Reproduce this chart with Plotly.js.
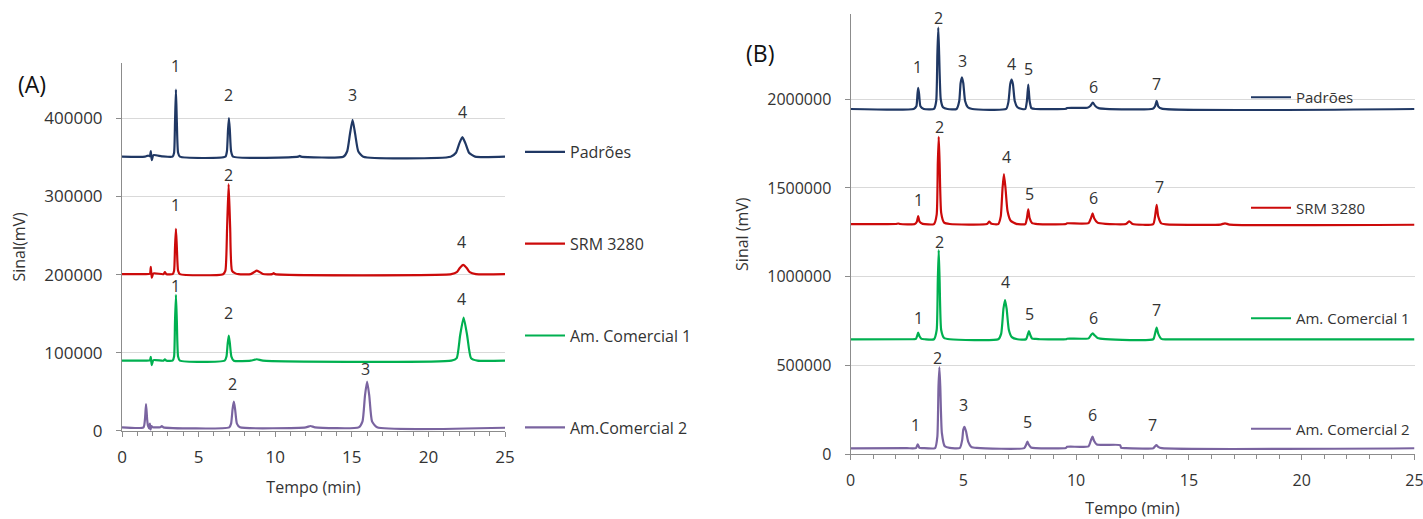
<!DOCTYPE html>
<html>
<head>
<meta charset="utf-8">
<script src="https://cdn.plot.ly/plotly-3.0.1.min.js"></script>
<style>
html,body{margin:0;padding:0;background:#fff;overflow:hidden;}
#chart{width:1423px;height:519px;}
</style>
</head>
<body>
<div id="chart"></div>
<script>
// ---------- Series names & colours ----------
const seriesNames = ['Padrões', 'SRM 3280', 'Am. Comercial 1', 'Am.Comercial 2'];
const seriesNamesB = ['Padrões', 'SRM 3280', 'Am. Comercial 1', 'Am. Comercial 2'];
const seriesColors = ['#203864', '#cc0a0a', '#00b050', '#7a64a0'];

// ---------- Panel (A) chromatograms: time (min) / signal (mV) ----------
const padA_t = [0, 1.5, 1.7, 1.82, 1.88, 1.94, 2.05, 2.6, 3.3, 3.4, 3.46, 3.52, 3.58, 3.66, 3.78, 6.75, 6.85, 6.92, 6.98, 7.04, 7.12, 7.25, 11.5, 11.6, 11.7, 14.45, 14.7, 14.88, 15.05, 15.22, 15.42, 15.75, 21.45, 21.8, 22.02, 22.22, 22.42, 22.65, 23.05, 25];
const padA_y = [351000, 351000, 352500, 351500, 358000, 346500, 353000, 351500, 351000, 356000, 395000, 437000, 395000, 356000, 351000, 351000, 358000, 385000, 400500, 385000, 358000, 351000, 351000, 352000, 351000, 351000, 358000, 380000, 398300, 380000, 358000, 351000, 351000, 356000, 368000, 376000, 368000, 356000, 351000, 351000];

const srmA_t = [0, 1.5, 1.82, 1.88, 1.94, 2.05, 2.7, 2.8, 2.9, 3.3, 3.4, 3.46, 3.52, 3.58, 3.66, 3.78, 6.6, 6.75, 6.86, 6.96, 7.06, 7.18, 7.4, 7.6, 8.4, 8.8, 9.2, 9.8, 9.9, 10.0, 21.5, 21.85, 22.05, 22.27, 22.5, 22.7, 23.1, 25];
const srmA_y = [200500, 200500, 201000, 210000, 196000, 201500, 200500, 203000, 200500, 200500, 205000, 235000, 258600, 235000, 205000, 200500, 200500, 205000, 260000, 316000, 260000, 205000, 201500, 200500, 200500, 205000, 200800, 200500, 201800, 200500, 200500, 203000, 208500, 212400, 208500, 203000, 200500, 200500];

const c1A_t = [0, 1.5, 1.82, 1.88, 1.94, 2.05, 2.7, 2.8, 2.9, 3.3, 3.4, 3.46, 3.52, 3.58, 3.66, 3.78, 6.7, 6.82, 6.9, 6.97, 7.04, 7.14, 7.3, 8.4, 8.8, 9.2, 21.5, 21.85, 22.07, 22.3, 22.53, 22.78, 23.2, 25];
const c1A_y = [89700, 89700, 90000, 94500, 84000, 90500, 89700, 91500, 89700, 89700, 95000, 140000, 174000, 140000, 95000, 89700, 89700, 95000, 112000, 121800, 112000, 95000, 89700, 89700, 91500, 89700, 89700, 93000, 122000, 144900, 122000, 93000, 89700, 89700];

const c2A_t = [0, 1.4, 1.5, 1.57, 1.64, 1.7, 1.78, 1.82, 1.86, 1.92, 2.0, 2.5, 2.6, 2.7, 7.0, 7.12, 7.22, 7.3, 7.38, 7.5, 7.7, 12.0, 12.3, 12.6, 15.45, 15.7, 15.86, 16.0, 16.14, 16.32, 16.65, 25];
const c2A_y = [4300, 4300, 15000, 34200, 15000, 6000, 3000, 9000, 1500, 6000, 4500, 4500, 5800, 4300, 4300, 9000, 28000, 37200, 28000, 9000, 4300, 4300, 6000, 4300, 4300, 12000, 45000, 62800, 45000, 12000, 4300, 3800];

// ---------- Panel (B) chromatograms ----------
const padB_t = [0, 2.8, 2.92, 2.97, 3.0, 3.04, 3.1, 3.25, 3.7, 3.8, 3.85, 3.89, 3.93, 4.0, 4.1, 4.3, 4.7, 4.82, 4.88, 4.94, 5.0, 5.08, 5.2, 5.4, 6.9, 7.0, 7.08, 7.14, 7.2, 7.28, 7.4, 7.6, 7.75, 7.82, 7.88, 7.94, 8.02, 8.2, 9.55, 9.6, 10.5, 10.63, 10.74, 10.85, 11.0, 11.3, 13.4, 13.5, 13.57, 13.64, 13.8, 25];
const padB_y = [1945000, 1945000, 1960000, 2030000, 2064000, 2030000, 1960000, 1945000, 1945000, 1990000, 2250000, 2404000, 2250000, 2000000, 1955000, 1945000, 1945000, 1990000, 2090000, 2123000, 2090000, 1990000, 1955000, 1945000, 1945000, 1985000, 2085000, 2111000, 2085000, 1990000, 1955000, 1945000, 1945000, 1990000, 2083000, 1990000, 1950000, 1945000, 1946000, 1951000, 1952000, 1962000, 1981000, 1962000, 1950000, 1946000, 1946000, 1960000, 1991000, 1960000, 1947000, 1945000];

const srmB_t = [0, 2.0, 2.12, 2.2, 2.85, 2.94, 3.0, 3.06, 3.2, 3.7, 3.82, 3.87, 3.91, 3.95, 4.02, 4.15, 4.4, 6.05, 6.15, 6.25, 6.55, 6.66, 6.74, 6.8, 6.87, 6.96, 7.1, 7.35, 7.75, 7.82, 7.88, 7.94, 8.05, 8.3, 9.55, 9.6, 10.55, 10.66, 10.73, 10.8, 10.95, 11.3, 12.2, 12.36, 12.5, 13.42, 13.5, 13.57, 13.64, 13.78, 14.0, 16.4, 16.6, 16.8, 25];
const srmB_y = [1297000, 1297000, 1300000, 1297000, 1297000, 1310000, 1342000, 1310000, 1298000, 1297000, 1350000, 1640000, 1788000, 1640000, 1360000, 1305000, 1297000, 1297000, 1310000, 1298000, 1297000, 1340000, 1500000, 1578000, 1500000, 1370000, 1315000, 1298000, 1297000, 1330000, 1379000, 1330000, 1302000, 1297000, 1297000, 1301000, 1302000, 1330000, 1357000, 1330000, 1305000, 1298000, 1297000, 1312000, 1297000, 1297000, 1340000, 1405000, 1340000, 1300000, 1295000, 1294000, 1301000, 1294000, 1293000];

const c1B_t = [0, 2.6, 2.9, 2.95, 3.0, 3.06, 3.15, 3.3, 3.7, 3.82, 3.87, 3.91, 3.95, 4.02, 4.15, 4.4, 6.55, 6.68, 6.78, 6.85, 6.92, 7.02, 7.15, 7.4, 7.78, 7.86, 7.91, 7.96, 8.05, 8.2, 8.4, 9.55, 9.6, 10.55, 10.66, 10.74, 10.82, 10.95, 11.3, 13.42, 13.5, 13.57, 13.64, 13.78, 14.0, 25];
const c1B_y = [647500, 648000, 650000, 665000, 685000, 665000, 650000, 648000, 648000, 700000, 980000, 1150000, 980000, 700000, 655000, 648000, 648000, 680000, 820000, 869000, 820000, 700000, 660000, 648000, 648000, 675000, 694000, 675000, 652000, 650000, 648000, 648000, 651000, 653000, 672000, 681000, 670000, 655000, 649000, 648000, 680000, 713000, 680000, 650000, 647500, 647500];

const c2B_t = [0, 2.5, 2.9, 2.98, 3.06, 3.2, 3.75, 3.85, 3.9, 3.94, 3.98, 4.05, 4.18, 4.4, 4.85, 4.95, 5.0, 5.05, 5.12, 5.22, 5.35, 5.6, 7.7, 7.79, 7.84, 7.9, 8.0, 8.2, 9.55, 9.6, 10.55, 10.66, 10.73, 10.8, 10.92, 11.95, 12.0, 12.2, 13.42, 13.5, 13.56, 13.64, 13.8, 25];
const c2B_y = [33800, 34500, 35000, 56000, 36000, 35000, 35000, 100000, 380000, 490000, 380000, 120000, 45000, 36000, 36000, 80000, 140000, 155000, 130000, 70000, 42000, 36000, 35000, 55000, 71000, 55000, 38000, 35000, 36000, 42000, 45000, 80000, 99000, 75000, 55000, 52000, 36000, 34500, 34500, 45000, 52000, 42000, 34500, 34000];

// ---------- Peak number labels (time, signal, text) ----------
const padA_lx = [3.52, 6.96, 15.05, 22.22];
const padA_ly = [466700, 430400, 429500, 407700];
const padA_lt = ['1', '2', '3', '4'];
const srmA_lx = [3.52, 6.96, 22.19];
const srmA_ly = [289400, 327800, 241500];
const srmA_lt = ['1', '2', '4'];
const c1A_lx = [3.46, 6.96, 22.19];
const c1A_ly = [185500, 150500, 168500];
const c1A_lt = ['1', '2', '4'];
const c2A_lx = [7.18, 15.92];
const c2A_ly = [59500, 79100];
const c2A_lt = ['2', '3'];

const padB_lx = [2.95, 3.88, 4.96, 7.14, 7.91, 10.76, 13.57];
const padB_ly = [2182000, 2455000, 2214000, 2201000, 2173000, 2070000, 2085000];
const padB_lt = ['1', '2', '3', '4', '5', '6', '7'];
const srmB_lx = [3.0, 3.94, 6.92, 7.92, 10.76, 13.68];
const srmB_ly = [1432000, 1845000, 1676000, 1466000, 1441000, 1503000];
const srmB_lt = ['1', '2', '4', '5', '6', '7'];
const c1B_lx = [3.0, 3.94, 6.89, 7.93, 10.76, 13.57];
const c1B_ly = [767000, 1197000, 968000, 788000, 766000, 812000];
const c1B_lt = ['1', '2', '4', '5', '6', '7'];
const c2B_lx = [2.9, 3.87, 5.0, 7.85, 10.74, 13.4];
const c2B_ly = [165000, 544000, 277600, 180000, 221000, 165000];
const c2B_lt = ['1', '2', '3', '5', '6', '7'];

// ---------- Axis tick values ----------
const xTicks = [0, 5, 10, 15, 20, 25];
const yTicksA = [0, 100000, 200000, 300000, 400000];
const yTicksB = [0, 500000, 1000000, 1500000, 2000000];

// ---------- Build ----------
const FONT = '"Open Sans", "DejaVu Sans", sans-serif';
const TXT = '#333333';
const AX = '#8c8c8c';
const GRID = '#d9d9d9';

const seriesA = [[padA_t, padA_y], [srmA_t, srmA_y], [c1A_t, c1A_y], [c2A_t, c2A_y]];
const seriesB = [[padB_t, padB_y], [srmB_t, srmB_y], [c1B_t, c1B_y], [c2B_t, c2B_y]];
const labelsA = [[padA_lx, padA_ly, padA_lt], [srmA_lx, srmA_ly, srmA_lt], [c1A_lx, c1A_ly, c1A_lt], [c2A_lx, c2A_ly, c2A_lt]];
const labelsB = [[padB_lx, padB_ly, padB_lt], [srmB_lx, srmB_ly, srmB_lt], [c1B_lx, c1B_ly, c1B_lt], [c2B_lx, c2B_ly, c2B_lt]];

const traces = [];
seriesA.forEach((s, i) => {
  traces.push({
    x: s[0], y: s[1], xaxis: 'x', yaxis: 'y', type: 'scatter', mode: 'lines',
    name: seriesNames[i], legend: 'legend', legendgroup: 'a' + i,
    line: {color: seriesColors[i], width: 2.2, shape: 'spline', smoothing: 0.5},
    hoverinfo: 'x+y'
  });
});
seriesB.forEach((s, i) => {
  traces.push({
    x: s[0], y: s[1], xaxis: 'x2', yaxis: 'y2', type: 'scatter', mode: 'lines',
    name: seriesNamesB[i], legend: 'legend2', legendgroup: 'b' + i,
    line: {color: seriesColors[i], width: 2.2, shape: 'spline', smoothing: 0.5},
    hoverinfo: 'x+y'
  });
});

const annotations = [];
labelsA.forEach(l => {
  l[0].forEach((x, k) => annotations.push({
    x: x, y: l[1][k], xref: 'x', yref: 'y', text: l[2][k], showarrow: false,
    xanchor: 'center', yanchor: 'middle',
    font: {family: FONT, size: 16, color: TXT}
  }));
});
labelsB.forEach(l => {
  l[0].forEach((x, k) => annotations.push({
    x: x, y: l[1][k], xref: 'x2', yref: 'y2', text: l[2][k], showarrow: false,
    xanchor: 'center', yanchor: 'middle',
    font: {family: FONT, size: 16, color: TXT}
  }));
});
annotations.push({x: 32 / 1423, y: 1 - 84 / 519, xref: 'paper', yref: 'paper', text: '(A)', showarrow: false,
  xanchor: 'center', yanchor: 'middle', font: {family: FONT, size: 23, color: '#111'}});
annotations.push({x: 760 / 1423, y: 1 - 53 / 519, xref: 'paper', yref: 'paper', text: '(B)', showarrow: false,
  xanchor: 'center', yanchor: 'middle', font: {family: FONT, size: 23, color: '#111'}});

function xAxisCfg(domain, size) {
  return {
    domain: domain, range: [0, 25], tickvals: xTicks, ticktext: xTicks.map(String),
    showline: true, linecolor: AX, linewidth: 1, mirror: false,
    ticks: 'outside', ticklen: 5, tickcolor: AX, ticklabelstandoff: 6,
    ticklabeloverflow: 'allow',
    minor: {dtick: 1, ticks: 'outside', ticklen: 4, tickcolor: AX, showgrid: false},
    showgrid: false, zeroline: false, fixedrange: true,
    tickfont: {family: FONT, size: size, color: TXT},
    title: {text: 'Tempo (min)', font: {family: FONT, size: 16, color: TXT}, standoff: 14}
  };
}
function yAxisCfg(domain, range, ticks, size, title, anchor) {
  return {
    domain: domain, range: range, tickvals: ticks, ticktext: ticks.map(String),
    showline: true, linecolor: AX, linewidth: 1,
    ticks: 'outside', ticklen: 5, tickcolor: AX, ticklabelstandoff: 10,
    showgrid: true, gridcolor: GRID, gridwidth: 1, zeroline: false, fixedrange: true,
    tickfont: {family: FONT, size: size, color: TXT}, anchor: anchor,
    title: {text: title, font: {family: FONT, size: 16, color: TXT}, standoff: 14}
  };
}

const layout = {
  width: 1423, height: 519,
  margin: {l: 0, r: 0, t: 0, b: 0},
  paper_bgcolor: '#ffffff', plot_bgcolor: 'rgba(0,0,0,0)',
  font: {family: FONT, color: TXT},
  showlegend: true,
  xaxis: Object.assign(xAxisCfg([122 / 1423, 505 / 1423], 17), {anchor: 'y'}),
  yaxis: yAxisCfg([1 - 430.7 / 519, 1 - 63 / 519], [0, 471000], yTicksA, 17, 'Sinal(mV)', 'x'),
  xaxis2: Object.assign(xAxisCfg([850.5 / 1423, 1414.5 / 1423], 16), {anchor: 'y2'}),
  yaxis2: yAxisCfg([1 - 454.3 / 519, 1 - 14 / 519], [0, 2480000], yTicksB, 16, 'Sinal (mV)', 'x2'),
  legend: {
    x: 520 / 1423, y: 1 - 135 / 519, xanchor: 'left', yanchor: 'top',
    bgcolor: 'rgba(0,0,0,0)', borderwidth: 0, traceorder: 'grouped', tracegroupgap: 68,
    font: {family: FONT, size: 16, color: TXT}, itemwidth: 40
  },
  legend2: {
    x: 1246 / 1423, y: 1 - 81 / 519, xanchor: 'left', yanchor: 'top',
    bgcolor: 'rgba(0,0,0,0)', borderwidth: 0, traceorder: 'grouped', tracegroupgap: 88,
    font: {family: FONT, size: 15, color: TXT}, itemwidth: 40
  },
  annotations: annotations
};

Plotly.newPlot('chart', traces, layout, {displayModeBar: false, staticPlot: true});
</script>
</body>
</html>
